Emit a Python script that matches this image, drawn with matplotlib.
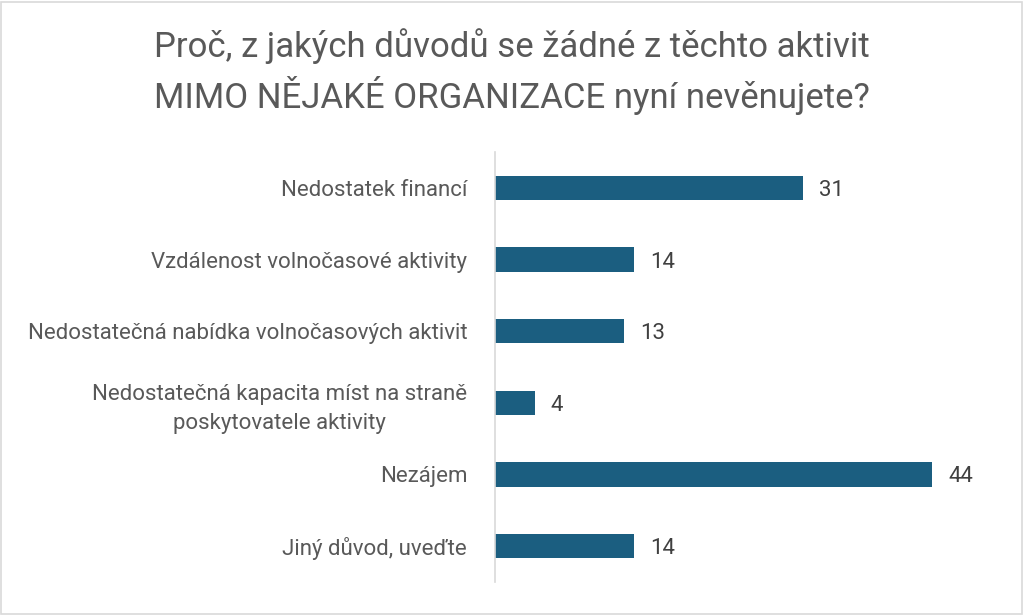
import matplotlib.pyplot as plt
from matplotlib.patches import Rectangle

plt.rcParams["font.family"] = ["Roboto", "DejaVu Sans"]

categories = [
    "Nedostatek financí",
    "Vzdálenost volnočasové aktivity",
    "Nedostatečná nabídka volnočasových aktivit",
    "Nedostatečná kapacita míst na straně\nposkytovatele aktivity",
    "Nezájem",
    "Jiný důvod, uveďte",
]
values = [31, 14, 13, 4, 44, 14]

title = "Proč, z jakých důvodů se žádné z těchto aktivit\nMIMO NĚJAKÉ ORGANIZACE nyní nevěnujete?"

BAR = "#1b5e80"
TXT = "#595959"

fig = plt.figure(figsize=(10.24, 6.15), dpi=100)
ax = fig.add_axes([0.4834, 0.0537, 0.4854, 0.6991])

ypos = list(range(len(categories)))
ax.barh(ypos, values, height=0.34, color=BAR)
ax.set_ylim(len(categories) - 0.5, -0.5)
ax.set_xlim(0, 50)

for y, v in zip(ypos, values):
    ax.text(v + 1.6, y, str(v), va="center_baseline", ha="left", fontsize=16,
            color="#404040")

ax.set_yticks(ypos)
ax.set_yticklabels(categories, fontsize=16, color=TXT, multialignment="center",
                   linespacing=1.5)
ax.tick_params(axis="y", length=0, pad=20)
ax.set_xticks([])
for side in ["top", "right", "bottom"]:
    ax.spines[side].set_visible(False)
ax.spines["left"].set_color("#d9d9d9")
ax.spines["left"].set_linewidth(1.2)

fig.text(0.5, 0.883, title, ha="center", va="center", fontsize=25,
         color=TXT, linespacing=1.38)

# light frame round the whole chart
fig.patches.append(Rectangle((0.001, 0.002), 0.997, 0.995, transform=fig.transFigure,
                             fill=False, edgecolor="#d9d9d9", linewidth=1.2))

fig.savefig("out.png", dpi=100)
